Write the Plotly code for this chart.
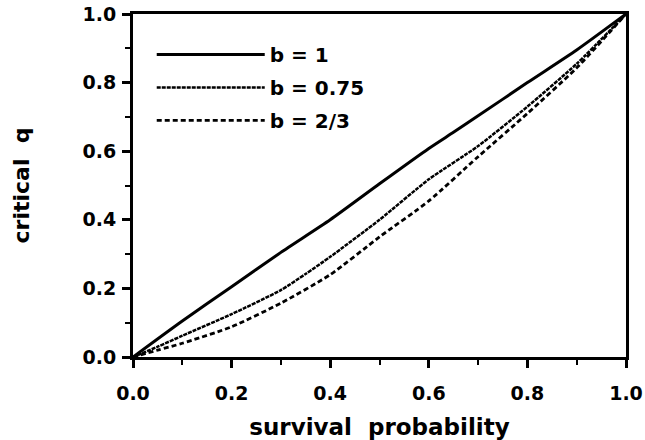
import plotly.graph_objects as go

# survival probability (x) and critical q (y)
x_b1 = [0.0, 0.1, 0.2, 0.3, 0.4, 0.5, 0.6, 0.65, 0.7, 0.8, 0.9, 1.0]
y_b1 = [0.0, 0.105, 0.205, 0.305, 0.40, 0.505, 0.608, 0.655, 0.703, 0.80, 0.895, 1.0]

x_b075 = [0.0, 0.05, 0.1, 0.2, 0.3, 0.35, 0.4, 0.5, 0.6, 0.7, 0.8, 0.9, 1.0]
y_b075 = [0.0, 0.03, 0.062, 0.125, 0.195, 0.242, 0.292, 0.40, 0.518, 0.615, 0.73, 0.855, 1.0]

x_b23 = [0.0, 0.05, 0.1, 0.2, 0.3, 0.4, 0.5, 0.6, 0.7, 0.8, 0.9, 1.0]
y_b23 = [0.0, 0.02, 0.04, 0.088, 0.157, 0.24, 0.35, 0.455, 0.584, 0.71, 0.843, 1.0]

names = ["b = 1", "b = 0.75", "b = 2/3"]
tick_vals = [0.0, 0.2, 0.4, 0.6, 0.8, 1.0]
tick_text = ["0.0", "0.2", "0.4", "0.6", "0.8", "1.0"]

FONT = "DejaVu Sans"

fig = go.Figure()
fig.add_trace(go.Scatter(x=x_b1, y=y_b1, mode="lines", name=names[0],
                         legendgroup="a",
                         line=dict(color="black", width=3, dash="solid",
                                   shape="spline", smoothing=0.6)))
fig.add_trace(go.Scatter(x=x_b075, y=y_b075, mode="lines", name=names[1],
                         legendgroup="b",
                         line=dict(color="black", width=2.5, dash="4px,1px",
                                   shape="spline", smoothing=0.6)))
fig.add_trace(go.Scatter(x=x_b23, y=y_b23, mode="lines", name=names[2],
                         legendgroup="c",
                         line=dict(color="black", width=2.8, dash="5px,3px",
                                   shape="spline", smoothing=0.6)))

axis_common = dict(
    range=[0, 1],
    tickvals=tick_vals,
    ticktext=tick_text,
    ticks="outside",
    ticklen=8,
    tickwidth=2.5,
    tickcolor="black",
    showline=True,
    linewidth=3,
    linecolor="black",
    mirror=True,
    showgrid=False,
    zeroline=False,
    automargin=False,
    tickfont=dict(family=FONT, size=19, color="black", weight="bold"),
    minor=dict(dtick=0.1, ticks="outside", ticklen=5, tickwidth=2, tickcolor="black", showgrid=False),
)

fig.update_xaxes(**axis_common,
                 ticklabelstandoff=9,
                 title=dict(text="survival  probability",
                            font=dict(family=FONT, size=23, color="black", weight="bold"),
                            standoff=18))
fig.update_yaxes(**axis_common,
                 ticklabelstandoff=2,
                 title=dict(text="critical  q",
                            font=dict(family=FONT, size=22, color="black", weight="bold"),
                            standoff=47))

fig.update_layout(
    width=645, height=440,
    margin=dict(l=133, r=19, t=14, b=83),
    paper_bgcolor="white",
    plot_bgcolor="white",
    showlegend=True,
    legend=dict(
        x=0.038, y=0.939, xanchor="left", yanchor="top",
        bgcolor="rgba(0,0,0,0)",
        font=dict(family=FONT, size=20, color="black", weight="bold"),
        traceorder="grouped",
        tracegroupgap=4,
        itemwidth=108,
    ),
)

fig.write_html("out.html")
